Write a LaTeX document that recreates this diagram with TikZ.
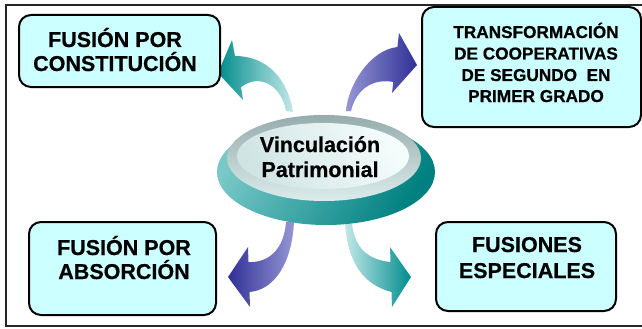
\documentclass[tikz,border=0pt]{standalone}
\usepackage{fontspec}
\setmainfont{Liberation Sans}
\newfontfamily\heavyfont[FakeBold=0.6]{Liberation Sans Bold}
\usetikzlibrary{shapes.geometric}
\definecolor{boxfill}{RGB}{204,255,255}
\definecolor{tealdark}{RGB}{0,140,140}
\definecolor{teallight}{RGB}{195,232,232}
\definecolor{bluedark}{RGB}{48,48,150}
\definecolor{bluelight}{RGB}{150,150,212}
\definecolor{basedark}{RGB}{0,128,128}
\definecolor{baselight}{RGB}{120,200,200}
\definecolor{ringdark}{RGB}{150,172,172}
\definecolor{ringlight}{RGB}{220,236,236}
\definecolor{innerA}{RGB}{208,228,228}
\definecolor{innerB}{RGB}{245,252,252}
\tikzset{
  boxnode/.style={draw=black, line width=2pt, fill=boxfill, rounded corners=12pt,
    rectangle, inner sep=0pt, outer sep=0pt, anchor=north west},
  bigtxt/.style={font=\fontsize{21.5}{25}\selectfont\heavyfont, anchor=base, inner sep=0pt},
  smalltxt/.style={font=\fontsize{17.2}{21}\selectfont\heavyfont, anchor=base, inner sep=0pt},
  framestyle/.style={draw=black!85, line width=1.5pt},
}
\begin{document}
\begin{tikzpicture}[x=1pt,y=-1pt]
\path[use as bounding box] (0,0) rectangle (642,329);
\fill[white] (0,0) rectangle (642,329);
% frame
\coordinate (fa) at (650,5);
\coordinate (fb) at (6,5);
\coordinate (fc) at (6,326);
\coordinate (fd) at (650,326);
\draw[framestyle] (fa) -- (fb) -- (fc) -- (fd);

% arrows
% arrow 1 (teal, to upper left)
\shade[left color=tealdark, right color=teallight]
  (293,112) .. controls (288,80) and (268,56) .. (235,56)
  -- (232,40) -- (218,73) -- (243,100) -- (241,87)
  .. controls (262,72) and (282,88) .. (286,111) -- cycle;
% arrow 2 (blue, to upper right)
\shade[left color=bluelight, right color=bluedark]
  (346,111) .. controls (348,85) and (370,50) .. (397.4,47)
  -- (399,33) -- (417,65) -- (392,93) -- (393.3,82)
  .. controls (372,78) and (356,90) .. (351,111) -- cycle;
% arrow 3 (blue, to lower left)
\shade[left color=bluedark, right color=bluelight]
  (286,222) .. controls (284,250) and (268,263) .. (248.5,262)
  -- (248,247) -- (228,277) -- (250,307) -- (249.5,292)
  .. controls (275,290) and (292,262) .. (294,222) -- cycle;
% arrow 4 (teal, to lower right)
\shade[left color=teallight, right color=tealdark]
  (352,224) .. controls (355,250) and (370,260) .. (390.5,262)
  -- (390,247) -- (411,277) -- (392,307) -- (391.5,292)
  .. controls (365,285) and (348,265) .. (345,224) -- cycle;

% central disc
\shade[left color=baselight, right color=basedark, shading angle=60]
  (326,172) ellipse [x radius=109, y radius=53];
\shade[top color=ringdark, bottom color=ringlight]
  (324,158) ellipse [x radius=97, y radius=43];
\shade[left color=innerA, right color=innerB, shading angle=120]
  (323,156) ellipse [x radius=86, y radius=33];
\node[ellipse, minimum width=218, minimum height=106, inner sep=0pt] (core) at (326,168) {};

% boxes
\node[boxnode, minimum width=201, minimum height=72] (b1) at (19,15) {};
\node[boxnode, minimum width=219, minimum height=120] (b2) at (422,7) {};
\node[boxnode, minimum width=187, minimum height=93] (b3) at (29,222) {};
\node[boxnode, minimum width=180, minimum height=89] (b4) at (436,222) {};

% texts
\node[bigtxt] (t1a) at (115,47) {FUSIÓN POR};
\node[bigtxt] (t1b) at (115,71) {CONSTITUCIÓN};

\node[smalltxt] (t2a) at (536,38) {TRANSFORMACIÓN};
\node[smalltxt] (t2b) at (536,59.5) {DE COOPERATIVAS};
\node[smalltxt] (t2c) at (536,81) {DE SEGUNDO~ EN};
\node[smalltxt] (t2d) at (536,102) {PRIMER GRADO};

\node[bigtxt] (t3a) at (124,255) {FUSIÓN POR};
\node[bigtxt] (t3b) at (124,279) {ABSORCIÓN};

\node[bigtxt] (t4a) at (527,252) {FUSIONES};
\node[bigtxt] (t4b) at (527,278) {ESPECIALES};

\node[bigtxt] (tca) at (320,152) {Vinculación};
\node[bigtxt] (tcb) at (320,177) {Patrimonial};
\end{tikzpicture}
\end{document}
